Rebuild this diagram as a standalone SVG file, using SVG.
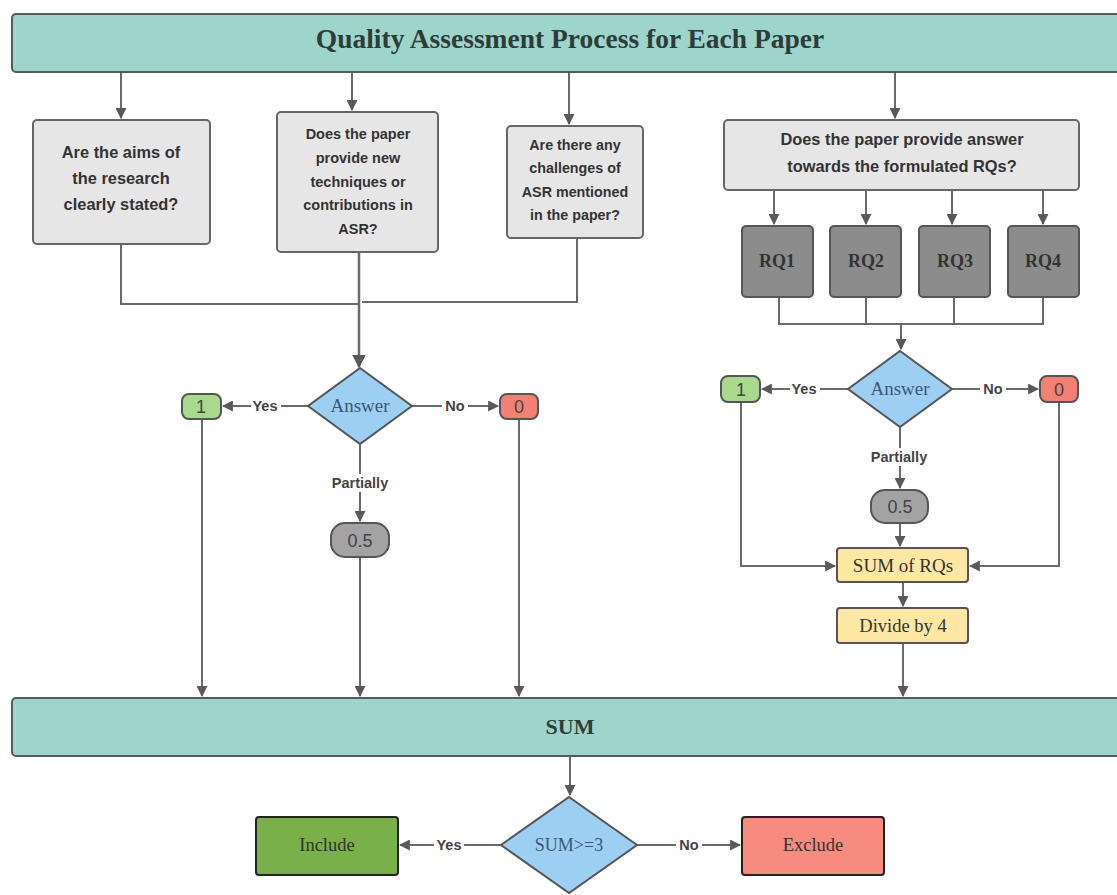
<svg xmlns="http://www.w3.org/2000/svg" width="1117" height="895" viewBox="0 0 1117 895">
<defs>
<marker id="ah" viewBox="0 0 10 10" refX="9" refY="5" markerWidth="5.5" markerHeight="5.5" orient="auto" markerUnits="strokeWidth">
<path d="M0,0 L10,5 L0,10 z" fill="#5a5a5a"/>
</marker>
<style>
.bar{fill:#9dd5ca;stroke:#5a5a5a;stroke-width:2}
.q{fill:#e6e6e6;stroke:#666;stroke-width:2}
.rq{fill:#8c8c8c;stroke:#555;stroke-width:2}
.dia{fill:#9ccff2;stroke:#555;stroke-width:2}
.one{fill:#a9d98d;stroke:#555;stroke-width:2}
.zero{fill:#f47f73;stroke:#555;stroke-width:2}
.half{fill:#a3a3a3;stroke:#555;stroke-width:2}
.yel{fill:#fde7a3;stroke:#555;stroke-width:2}
.inc{fill:#79b04a;stroke:#222;stroke-width:2}
.exc{fill:#f88b7f;stroke:#222;stroke-width:2}
.ln{fill:none;stroke:#6a6a6a;stroke-width:2}
.arr{fill:none;stroke:#6a6a6a;stroke-width:2;marker-end:url(#ah)}
.qt{font-family:"Liberation Sans",Arial,sans-serif;font-weight:bold;fill:#333;text-anchor:middle}
.st{font-family:"Liberation Serif","Times New Roman",serif;fill:#333;text-anchor:middle}
.lbl{font-family:"Liberation Sans",Arial,sans-serif;font-weight:bold;font-size:14.5px;fill:#444;text-anchor:middle}
.num{font-family:"Liberation Sans",Arial,sans-serif;font-size:18px;fill:#444;text-anchor:middle}
</style>
</defs>
<rect width="1117" height="895" fill="#fff"/>

<g id="connectors">
<line class="arr" x1="121" y1="72" x2="121" y2="118"/>
<line class="arr" x1="352" y1="72" x2="352" y2="110"/>
<line class="arr" x1="569" y1="72" x2="569" y2="124"/>
<line class="arr" x1="895" y1="72" x2="895" y2="118"/>
<path class="ln" d="M121,244 V304 H359"/>
<path class="ln" d="M577,238 V302 H362"/>
<line class="arr" x1="359" y1="252" x2="359" y2="367" style="stroke-width:2.5"/>
<line class="arr" x1="774" y1="190" x2="774" y2="224"/>
<line class="arr" x1="866" y1="190" x2="866" y2="224"/>
<line class="arr" x1="952" y1="190" x2="952" y2="224"/>
<line class="arr" x1="1043" y1="190" x2="1043" y2="224"/>
<path class="ln" d="M779,297 V324 H1043 V297"/>
<line class="ln" x1="866" y1="297" x2="866" y2="324"/>
<line class="ln" x1="954" y1="297" x2="954" y2="324"/>
<line class="arr" x1="901" y1="324" x2="901" y2="349"/>
<line class="arr" x1="308" y1="406" x2="223" y2="406"/>
<line class="arr" x1="412" y1="406" x2="498" y2="406"/>
<line class="arr" x1="360" y1="444" x2="360" y2="521"/>
<line class="arr" x1="202" y1="419" x2="202" y2="696"/>
<line class="arr" x1="360" y1="557" x2="360" y2="696"/>
<line class="arr" x1="519" y1="419" x2="519" y2="696"/>
<line class="arr" x1="848" y1="389" x2="762" y2="389"/>
<line class="arr" x1="952" y1="389" x2="1038" y2="389"/>
<line class="arr" x1="900" y1="427" x2="900" y2="488"/>
<line class="arr" x1="900" y1="523" x2="900" y2="546"/>
<path class="arr" d="M741,402 V566 H835"/>
<path class="arr" d="M1059,402 V566 H970"/>
<line class="arr" x1="903" y1="582" x2="903" y2="606"/>
<line class="arr" x1="903" y1="643" x2="903" y2="696"/>
<line class="arr" x1="570" y1="756" x2="570" y2="795"/>
<line class="arr" x1="501" y1="845" x2="400" y2="845"/>
<line class="arr" x1="637" y1="845" x2="740" y2="845"/>
<rect x="251" y="398" width="30" height="16" fill="#fff"/>
<text class="lbl" x="265" y="411">Yes</text>
<rect x="442" y="398" width="26" height="16" fill="#fff"/>
<text class="lbl" x="455" y="411">No</text>
<rect x="327" y="474" width="66" height="18" fill="#fff"/>
<text class="lbl" x="360" y="488">Partially</text>
<rect x="790" y="381" width="30" height="16" fill="#fff"/>
<text class="lbl" x="804" y="394">Yes</text>
<rect x="980" y="381" width="26" height="16" fill="#fff"/>
<text class="lbl" x="993" y="394">No</text>
<rect x="866" y="448" width="66" height="18" fill="#fff"/>
<text class="lbl" x="899" y="462">Partially</text>
<rect x="434" y="837" width="30" height="16" fill="#fff"/>
<text class="lbl" x="449" y="850">Yes</text>
<rect x="676" y="837" width="26" height="16" fill="#fff"/>
<text class="lbl" x="689" y="850">No</text>
</g>

<g id="title">
<rect class="bar" x="12" y="14" width="1120" height="58" rx="4"/>
<text class="st" x="570" y="48" style="font-size:27.5px;font-weight:bold;fill:#2e3c3a">Quality Assessment Process for Each Paper</text>
</g>

<g id="q1">
<rect class="q" x="33" y="120" width="177" height="124" rx="4"/>
<text class="qt" style="font-size:16.4px" x="121" y="158">Are the aims of</text>
<text class="qt" style="font-size:16.4px" x="121" y="184">the research</text>
<text class="qt" style="font-size:16.4px" x="121" y="210">clearly stated?</text>
</g>

<g id="q2">
<rect class="q" x="277" y="112" width="161" height="140" rx="4"/>
<text class="qt" style="font-size:14.5px" x="358" y="139">Does the paper</text>
<text class="qt" style="font-size:14.5px" x="358" y="163">provide new</text>
<text class="qt" style="font-size:14.5px" x="358" y="187">techniques or</text>
<text class="qt" style="font-size:14.5px" x="358" y="210">contributions in</text>
<text class="qt" style="font-size:14.5px" x="358" y="234">ASR?</text>
</g>

<g id="q3">
<rect class="q" x="507" y="126" width="136" height="112" rx="4"/>
<text class="qt" style="font-size:14.3px" x="575" y="150">Are there any</text>
<text class="qt" style="font-size:14.3px" x="575" y="173">challenges of</text>
<text class="qt" style="font-size:14.3px" x="575" y="197">ASR mentioned</text>
<text class="qt" style="font-size:14.3px" x="575" y="220">in the paper?</text>
</g>

<g id="q4">
<rect class="q" x="724" y="120" width="355" height="70" rx="4"/>
<text class="qt" style="font-size:16.4px" x="902" y="145">Does the paper provide answer</text>
<text class="qt" style="font-size:16.4px" x="902" y="172">towards the formulated RQs?</text>
</g>

<g id="rq1"><rect class="rq" x="742" y="226" width="71" height="71" rx="4"/><text class="st" x="777" y="267" style="font-size:18px;font-weight:bold">RQ1</text></g>
<g id="rq2"><rect class="rq" x="830" y="226" width="71" height="71" rx="4"/><text class="st" x="866" y="267" style="font-size:18px;font-weight:bold">RQ2</text></g>
<g id="rq3"><rect class="rq" x="919" y="226" width="71" height="71" rx="4"/><text class="st" x="955" y="267" style="font-size:18px;font-weight:bold">RQ3</text></g>
<g id="rq4"><rect class="rq" x="1008" y="226" width="71" height="71" rx="4"/><text class="st" x="1043" y="267" style="font-size:18px;font-weight:bold">RQ4</text></g>

<g id="answer-left">
<path class="dia" d="M360,368 L412,406 L360,444 L308,406 Z"/>
<text class="st" x="360" y="412" style="font-size:19px;fill:#3b5878">Answer</text>
</g>
<g id="one-left"><rect class="one" x="182" y="394" width="39" height="25" rx="7"/><text class="num" x="201" y="413">1</text></g>
<g id="zero-left"><rect class="zero" x="500" y="394" width="38" height="25" rx="7"/><text class="num" x="519" y="413">0</text></g>
<g id="half-left"><rect class="half" x="331" y="523" width="58" height="34" rx="14"/><text class="num" x="360" y="547">0.5</text></g>

<g id="answer-right">
<path class="dia" d="M900,351 L952,389 L900,427 L848,389 Z"/>
<text class="st" x="900" y="395" style="font-size:19px;fill:#3b5878">Answer</text>
</g>
<g id="one-right"><rect class="one" x="721" y="376" width="39" height="26" rx="7"/><text class="num" x="741" y="396">1</text></g>
<g id="zero-right"><rect class="zero" x="1040" y="376" width="38" height="26" rx="7"/><text class="num" x="1059" y="396">0</text></g>
<g id="half-right"><rect class="half" x="871" y="490" width="57" height="33" rx="14"/><text class="num" x="900" y="513">0.5</text></g>

<g id="sum-rqs"><rect class="yel" x="837" y="548" width="131" height="34" rx="3"/><text class="st" x="903" y="572" style="font-size:19px">SUM of RQs</text></g>
<g id="divide"><rect class="yel" x="837" y="608" width="131" height="35" rx="3"/><text class="st" x="903" y="632" style="font-size:18.5px">Divide by 4</text></g>

<g id="sum">
<rect class="bar" x="12" y="698" width="1120" height="58" rx="4"/>
<text class="st" x="570" y="734" style="font-size:22px;font-weight:bold;fill:#2e3c3a">SUM</text>
</g>

<g id="decision">
<path class="dia" d="M569,797 L637,845 L569,893 L501,845 Z"/>
<text class="st" x="569" y="851" style="font-size:18px;fill:#3b5878">SUM&gt;=3</text>
</g>
<g id="include"><rect class="inc" x="256" y="817" width="142" height="58" rx="3"/><text class="st" x="327" y="851" style="font-size:18.5px">Include</text></g>
<g id="exclude"><rect class="exc" x="742" y="817" width="142" height="58" rx="3"/><text class="st" x="813" y="851" style="font-size:18.5px">Exclude</text></g>
</svg>
